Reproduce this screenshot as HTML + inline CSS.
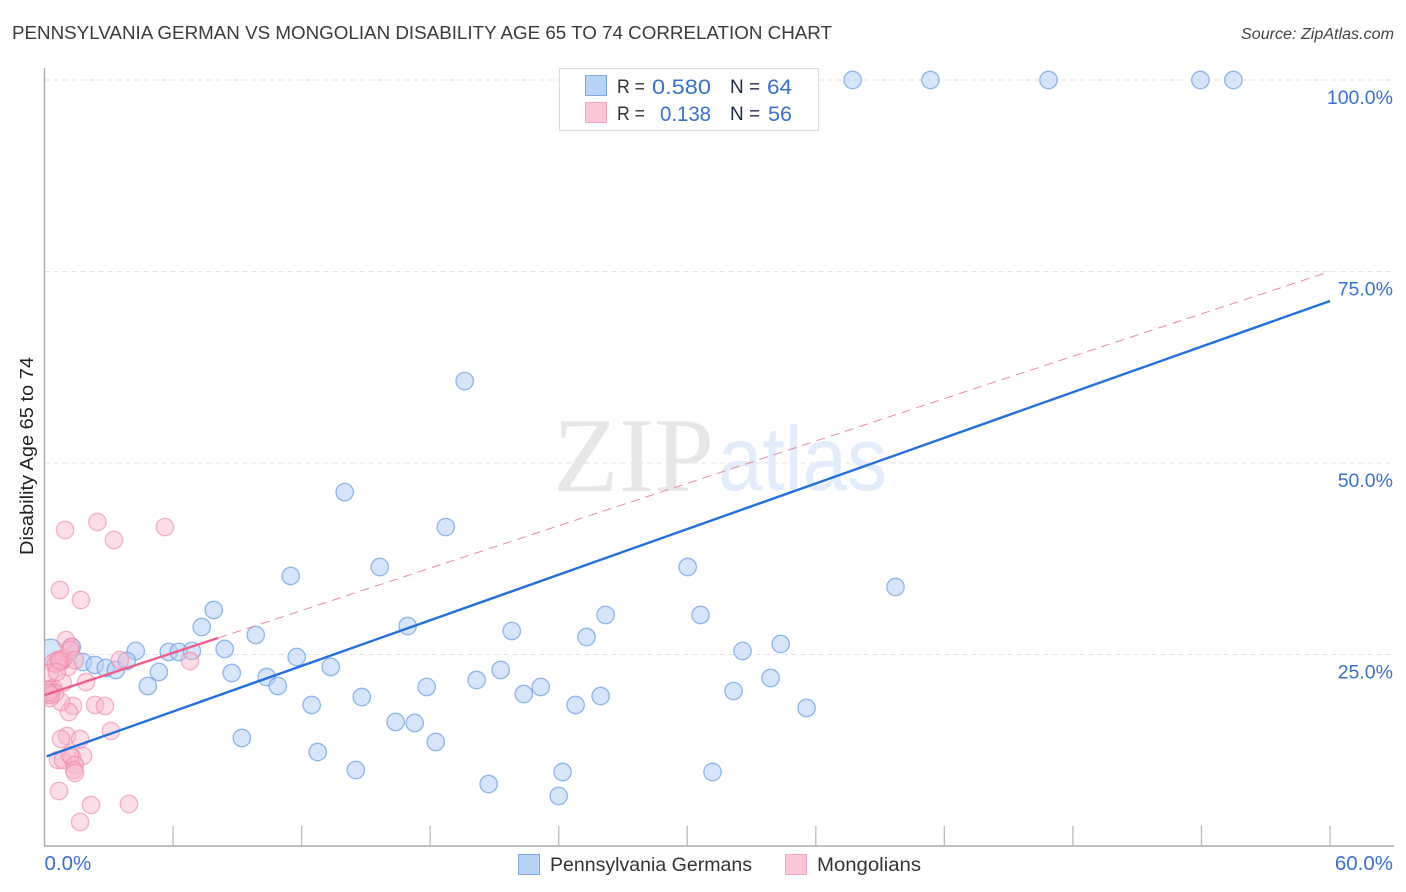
<!DOCTYPE html>
<html lang="en">
<head>
<meta charset="utf-8">
<title>Pennsylvania German vs Mongolian Disability Age 65 to 74 Correlation Chart</title>
<style>
html,body{margin:0;padding:0;background:#fff;width:1406px;height:892px;overflow:hidden}
svg{display:block;font-family:"Liberation Sans",sans-serif}
</style>
</head>
<body>
<svg id="chart" xmlns="http://www.w3.org/2000/svg" width="1406" height="892" viewBox="0 0 1406 892">
  <defs>
    <clipPath id="plot-clip"><rect x="44.5" y="60" width="1350" height="786"/></clipPath>
  </defs>
  <rect x="0" y="0" width="1406" height="892" fill="#fff"/>
  <text x="12" y="39" font-size="18.5" fill="#3a3a3a" textLength="820" lengthAdjust="spacingAndGlyphs">PENNSYLVANIA GERMAN VS MONGOLIAN DISABILITY AGE 65 TO 74 CORRELATION CHART</text>
  <text x="1394" y="39" font-size="15.5" font-style="italic" fill="#444" text-anchor="end" textLength="153" lengthAdjust="spacingAndGlyphs">Source: ZipAtlas.com</text>
  <text transform="translate(33,456) rotate(-90)" font-size="18.5" fill="#222" text-anchor="middle" textLength="198" lengthAdjust="spacingAndGlyphs">Disability Age 65 to 74</text>
  <g id="grid"></g>
  <g>
    <text x="553" y="491" font-family="'Liberation Serif',serif" font-size="106" fill="#e7e7e7" textLength="161" lengthAdjust="spacingAndGlyphs">ZIP</text>
    <text x="718" y="490" font-size="91" fill="#e2ecfb" textLength="169" lengthAdjust="spacingAndGlyphs">atlas</text>
  </g>
  <g id="axes"></g>
  <g id="points-blue" clip-path="url(#plot-clip)"></g>
  <g id="points-pink" clip-path="url(#plot-clip)"></g>
  <g id="trends"></g>
  <g id="tick-labels"></g>

  <g>
    <rect x="559.5" y="68.5" width="259" height="62" fill="#fff" stroke="#ddd" stroke-width="1.2"/>
    <rect x="585.5" y="75.5" width="21" height="20" fill="#b9d3f6" stroke="#7ea6e0" stroke-width="1"/>
    <rect x="585.5" y="102.5" width="21" height="20" fill="#fcc8d8" stroke="#f2a5bd" stroke-width="1"/>
    <g font-size="19.5">
      <text x="617" y="93" fill="#333" textLength="28" lengthAdjust="spacingAndGlyphs">R =</text>
      <text x="652" y="94" fill="#3a70cf" font-size="21" textLength="59" lengthAdjust="spacingAndGlyphs">0.580</text>
      <text x="730" y="93" fill="#1c2a44" textLength="30" lengthAdjust="spacingAndGlyphs">N =</text>
      <text x="767" y="94" fill="#3a70cf" font-size="21" textLength="25" lengthAdjust="spacingAndGlyphs">64</text>
      <text x="617" y="120" fill="#333" textLength="28" lengthAdjust="spacingAndGlyphs">R =</text>
      <text x="660" y="121" fill="#3a70cf" font-size="21" textLength="51" lengthAdjust="spacingAndGlyphs">0.138</text>
      <text x="730" y="120" fill="#1c2a44" textLength="30" lengthAdjust="spacingAndGlyphs">N =</text>
      <text x="768" y="121" fill="#3a70cf" font-size="21" textLength="24" lengthAdjust="spacingAndGlyphs">56</text>
    </g>
  </g>

  <g>
    <rect x="518.5" y="854.5" width="21" height="20" fill="#b9d3f6" stroke="#7ea6e0" stroke-width="1"/>
    <text x="550" y="871" font-size="19.5" fill="#333" textLength="202" lengthAdjust="spacingAndGlyphs">Pennsylvania Germans</text>
    <rect x="785.5" y="854.5" width="21" height="20" fill="#fcc8d8" stroke="#f2a5bd" stroke-width="1"/>
    <text x="817" y="871" font-size="19.5" fill="#333" textLength="104" lengthAdjust="spacingAndGlyphs">Mongolians</text>
  </g>
</svg>
<script>
const xTickValues = [6, 12, 18, 24, 30, 36, 42, 48, 54, 60];
const yGridValues = [25, 50, 75, 100];
const yTickLabels = ["25.0%", "50.0%", "75.0%", "100.0%"];
const xTickLabelValues = [0, 60];
const xTickLabels = ["0.0%", "60.0%"];

const blueX = [37.72, 41.35, 46.86, 53.95, 55.49, 19.61, 14.01, 18.73, 15.65, 11.49, 30.02, 39.72, 7.90, 26.19, 30.62, 7.34, 16.95, 21.81, 25.30, 9.86, 34.36, 32.58, 8.41, 4.26, 5.80, 6.27, 6.88, 1.28, 0.28, 11.77, 1.79, 2.35, 2.86, 3.33, 3.84, 5.34, 4.82, 8.74, 10.37, 10.89, 13.36, 21.29, 20.17, 17.84, 23.16, 22.37, 14.81, 25.96, 24.79, 12.47, 32.16, 33.89, 35.57, 16.39, 17.28, 18.26, 9.21, 12.75, 14.53, 20.73, 24.18, 24.00, 31.18, 0.76];
const blueY = [100, 100, 100, 100, 100, 60.7, 46.2, 41.64, 36.42, 35.25, 36.42, 33.81, 30.81, 30.16, 30.16, 28.59, 28.72, 28.07, 27.28, 27.55, 26.37, 25.46, 25.72, 25.46, 25.33, 25.33, 25.46, 25.98, 25.3, 24.67, 24.02, 23.63, 23.24, 22.98, 24.15, 22.72, 20.89, 22.58, 22.06, 20.89, 23.37, 22.98, 21.67, 20.76, 20.76, 19.84, 19.45, 19.58, 18.41, 18.41, 20.23, 21.93, 18.02, 16.19, 16.06, 13.58, 14.10, 12.27, 9.92, 8.09, 9.66, 6.53, 9.66, 24.3];

const pinkX = [0.96, 2.47, 3.24, 5.62, 0.72, 1.70, 1.00, 1.24, 3.52, 6.79, 1.94, 0.86, 1.33, 1.14, 2.36, 2.82, 0.77, 3.10, 1.05, 0.77, 1.66, 1.80, 0.63, 0.86, 1.28, 1.19, 1.42, 1.38, 1.42, 0.68, 2.17, 3.94, 1.66, 0.63, 0.40, 0.86, 1.10, 0.26, 0.40, 0.26, 0.12, 0.30, 0.26, 0.82, 0.72, 0.54, 0.91, 0.75, 0.16, 0.49, 0.30, 0.20, 0.70, 1.19, 1.42, 0.58];
const pinkY = [41.25, 42.30, 39.95, 41.64, 33.42, 32.11, 26.89, 25.98, 24.28, 24.15, 21.41, 21.28, 18.28, 17.49, 18.41, 18.28, 18.80, 15.01, 14.36, 13.97, 13.97, 11.75, 11.23, 11.23, 11.62, 11.88, 10.57, 9.92, 9.53, 7.18, 5.35, 5.48, 3.13, 24.28, 23.89, 24.28, 23.37, 22.58, 20.63, 20.10, 19.71, 20.40, 19.32, 24.15, 24.02, 23.76, 24.54, 24.10, 20.37, 19.97, 19.71, 20.00, 24.30, 25.59, 24.28, 22.71];

const blueTrendX = [0.1, 60];
const blueTrendY = [11.7, 71.15];
const pinkSolidX = [0, 8.1];
const pinkSolidY = [19.7, 27.15];
const pinkDashedX = [8.1, 60];
const pinkDashedY = [27.15, 75];

const NS = 'http://www.w3.org/2000/svg';
const oversizedBlueIndex = 28;
function sx(v) { return 44.5 + v * (1285.5 / 60); }
function sy(v) { return 846 - v * 7.66; }
function make(tag, attrs, parent) {
  const el = document.createElementNS(NS, tag);
  Object.keys(attrs).forEach(function (k) { el.setAttribute(k, attrs[k]); });
  parent.appendChild(el);
  return el;
}
const gridG = document.getElementById('grid');
const axesG = document.getElementById('axes');
const labelsG = document.getElementById('tick-labels');
const blueG = document.getElementById('points-blue');
const pinkG = document.getElementById('points-pink');
const trendG = document.getElementById('trends');

yGridValues.forEach(function (v, i) {
  const line = make('line', { x1: 44.5, x2: 1394, y1: sy(v), y2: sy(v), stroke: '#e2e2e2', 'stroke-width': 1, 'stroke-dasharray': '5 4' }, gridG);
  
  
  const label = make('text', { x: 1393, y: sy(v) + 24, 'font-size': 19.5, fill: '#3a70cf', 'text-anchor': 'end' }, labelsG);
  label.textContent = yTickLabels[i];
  
  
});

const yAxis = make('line', { x1: 44.5, x2: 44.5, y1: 68, y2: 846, stroke: '#aaa', 'stroke-width': 1.4 }, axesG);


const xAxis = make('line', { x1: 44, x2: 1394, y1: 846, y2: 846, stroke: '#aaa', 'stroke-width': 1.4 }, axesG);



xTickValues.forEach(function (v) {
  const tick = make('line', { x1: sx(v), x2: sx(v), y1: 826, y2: 846, stroke: '#bbb', 'stroke-width': 1.3 }, axesG);
  
  
});

xTickLabelValues.forEach(function (v, i) {
  const label = make('text', { x: i === 0 ? sx(v) : 1393, y: 870, 'font-size': 20.5, fill: '#3a70cf', 'text-anchor': i === 0 ? 'start' : 'end' }, labelsG);
  label.textContent = xTickLabels[i];
  
  
});

blueX.forEach(function (v, i) {
  const c = make('circle', { cx: sx(v), cy: sy(blueY[i]), r: i === oversizedBlueIndex ? 13 : 8.7, fill: '#b4d0f6', 'fill-opacity': 0.55, stroke: '#6a9be4', 'stroke-opacity': 0.7, 'stroke-width': 1.3 }, blueG);
  
  
});

pinkX.forEach(function (v, i) {
  const c = make('circle', { cx: sx(v), cy: sy(pinkY[i]), r: 8.7, fill: '#f9b4cb', 'fill-opacity': 0.45, stroke: '#ef87a8', 'stroke-opacity': 0.6, 'stroke-width': 1.3 }, pinkG);
  
  
});

const pinkDash = make('line', { x1: sx(pinkDashedX[0]), y1: sy(pinkDashedY[0]), x2: sx(pinkDashedX[1]), y2: sy(pinkDashedY[1]), stroke: '#e98aa8', 'stroke-width': 1, 'stroke-dasharray': '9 6' }, trendG);


const pinkSolid = make('line', { x1: sx(pinkSolidX[0]), y1: sy(pinkSolidY[0]), x2: sx(pinkSolidX[1]), y2: sy(pinkSolidY[1]), stroke: '#ea5f8c', 'stroke-width': 2.4 }, trendG);


const blueTrend = make('line', { x1: sx(blueTrendX[0]), y1: sy(blueTrendY[0]), x2: sx(blueTrendX[1]), y2: sy(blueTrendY[1]), stroke: '#2470d8', 'stroke-width': 2.4 }, trendG);


</script>
</body>
</html>
